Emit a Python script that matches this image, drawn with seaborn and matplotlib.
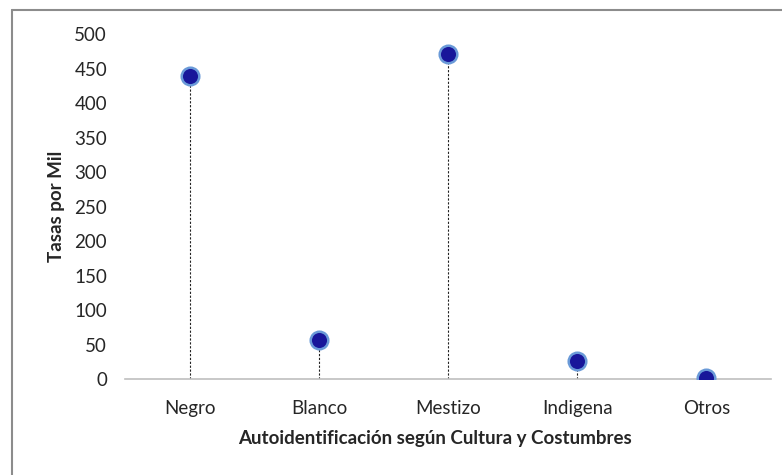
import pandas as pd
import matplotlib.pyplot as plt
import seaborn as sns
from matplotlib.lines import Line2D

# Data
categorias = ['Negro', 'Blanco', 'Mestizo', 'Indigena', 'Otros']
tasas = [439, 57, 471, 26, 2]


def visualize_data(df):
    sns.set_style('white')
    plt.rcParams['font.family'] = ['Lato', 'DejaVu Sans']

    fig = plt.figure(figsize=(7.82, 4.75), dpi=100)
    ax = fig.add_axes([0.16, 0.202, 0.826, 0.726])

    # Dashed drop lines from each point to the axis
    ax.vlines(df['x'], 0, df['tasa'], colors='#222222', linestyles=(0, (2, 1.5)),
              linewidth=0.8, zorder=1)

    sns.scatterplot(x='x', y='tasa', data=df, ax=ax, s=160, color='#18169a',
                    edgecolor='#6a9ad8', linewidth=1.8, zorder=3, legend=False)

    ax.set_xlim(-0.5, len(categorias) - 0.5)
    ax.set_ylim(0, 500)
    ax.set_yticks(range(0, 501, 50))
    ax.set_xticks(df['x'])
    ax.set_xticklabels(df['categoria'])
    ax.tick_params(axis='both', labelsize=13.5, colors='#262626', length=0)
    ax.tick_params(axis='y', pad=13)
    ax.tick_params(axis='x', pad=15)

    for side in ['top', 'right', 'left']:
        ax.spines[side].set_visible(False)
    ax.spines['bottom'].set_color('#bfbfbf')
    ax.spines['bottom'].set_linewidth(1.2)

    ax.set_ylabel('Tasas por Mil', fontsize=13.5, fontweight='bold')
    ax.yaxis.set_label_coords(-0.093, 0.5)
    ax.set_xlabel('Autoidentificación según Cultura y Costumbres', fontsize=13.5,
                  fontweight='bold')
    ax.xaxis.set_label_coords(0.479, -0.148)

    # Outer chart border (left and top edges visible in the crop)
    fig.add_artist(Line2D([0.0155, 0.0155], [0.0, 0.979], transform=fig.transFigure,
                          color='#8c8c8c', linewidth=1.5))
    fig.add_artist(Line2D([0.0155, 1.0], [0.979, 0.979], transform=fig.transFigure,
                          color='#8c8c8c', linewidth=1.5))

    fig.savefig('out.png', dpi=100)


def main():
    df = pd.DataFrame({'categoria': categorias, 'tasa': tasas})
    df['x'] = range(len(df))
    visualize_data(df)


if __name__ == "__main__":
    main()
